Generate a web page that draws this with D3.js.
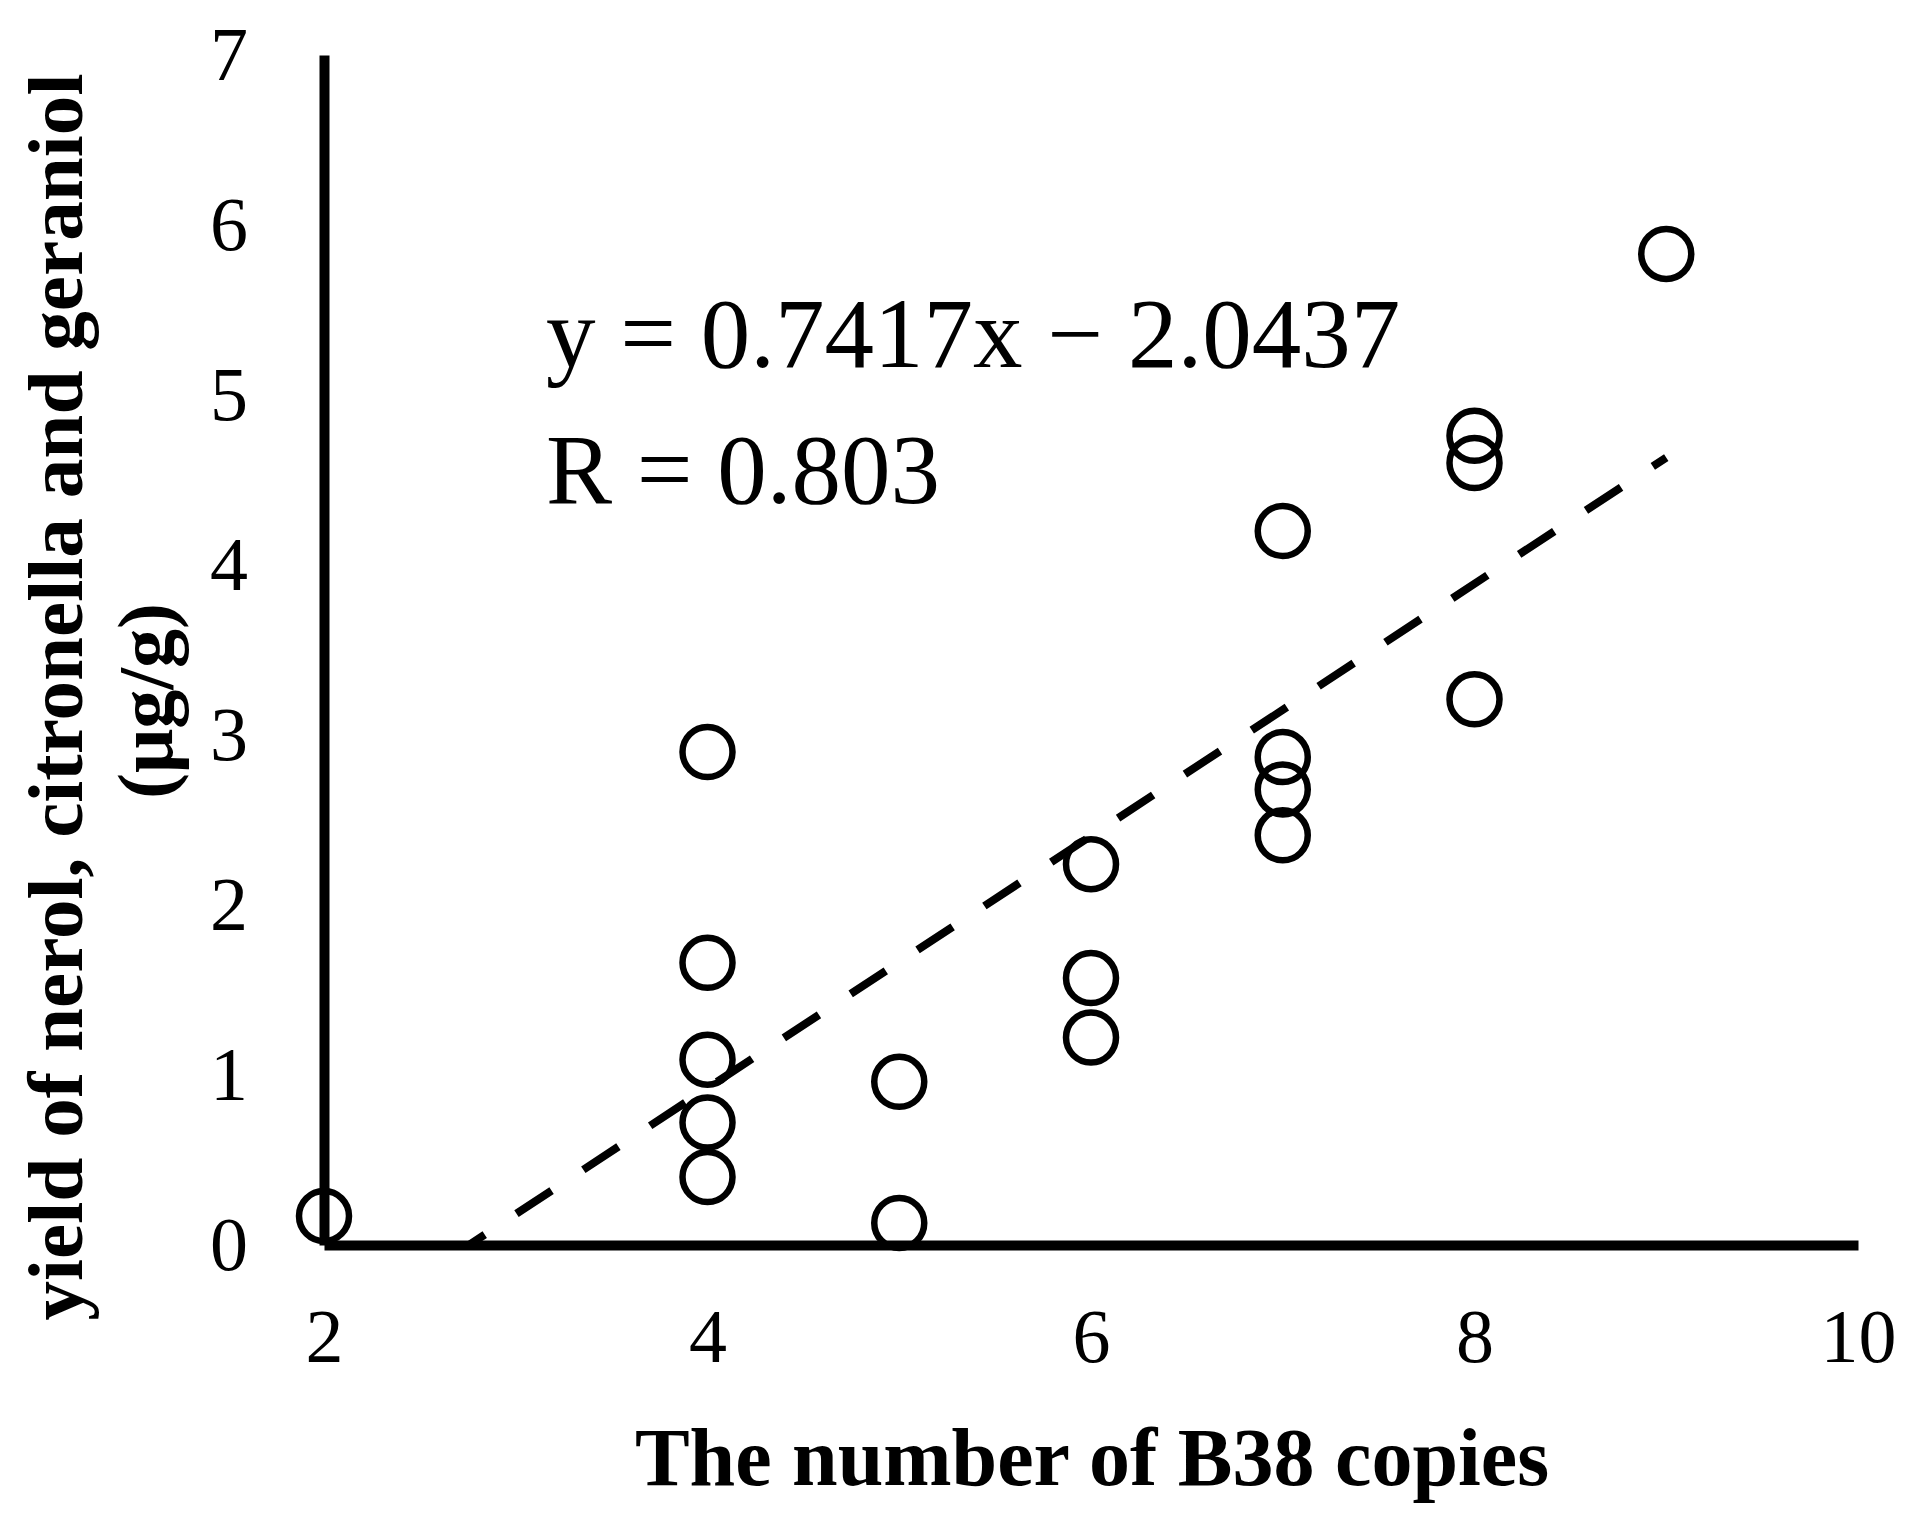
<!DOCTYPE html>
<html>
<head>
<meta charset="utf-8">
<script src="https://cdn.jsdelivr.net/npm/d3@7"></script>
<style>
  body { margin: 0; background: #fff; }
  text { font-family: "Liberation Serif", "Times New Roman", serif; fill: #000; }
</style>
</head>
<body>
<div id="chart"></div>
<script>
// copies of B38 per sample and the measured yield (ug/g)
var copies = [2, 4, 4, 4, 4, 4, 5, 5, 6, 6, 6, 7, 7, 7, 7, 8, 8, 8, 9]
var yields = [0.17, 2.90, 1.66, 1.09, 0.72, 0.40, 0.96, 0.13, 2.24, 1.57, 1.22, 4.20, 2.87, 2.68, 2.41, 4.76, 4.60, 3.21, 5.83]
var xTicks = [2, 4, 6, 8, 10]
var yTicks = [0, 1, 2, 3, 4, 5, 6, 7]
// linear fit shown on the chart
var slope = 0.7417
var intercept = -2.0437
var eqLabel = "y = 0.7417x \u2212 2.0437"
var rLabel = "R = 0.803"

var width = 1917
var height = 1525

var svg = d3.select("#chart")
  .append("svg")
    .attr("width", width)
    .attr("height", height)

var x = d3.scaleLinear().domain([2, 10]).range([324, 1858])
var y = d3.scaleLinear().domain([0, 7]).range([1245, 55])

// x axis
var gx = svg.append("g")
  .attr("transform", "translate(0," + y(0) + ")")
  .call(d3.axisBottom(x).tickValues(xTicks).tickSize(0).tickSizeOuter(0).tickPadding(63).tickFormat(d3.format("d")))
gx.select(".domain").attr("stroke-width", 10).attr("stroke", "#000")
gx.selectAll("text").style("font-size", "76px").attr("font-family", null)

// y axis
var gy = svg.append("g")
  .attr("transform", "translate(" + x(2) + ",0)")
  .call(d3.axisLeft(y).tickValues(yTicks).tickSize(0).tickSizeOuter(0).tickPadding(76).tickFormat(d3.format("d")))
gy.select(".domain").attr("stroke-width", 10).attr("stroke", "#000")
gy.selectAll("text").style("font-size", "76px").attr("font-family", null)

// trend line from where it crosses zero to the last sample
var x0 = -intercept / slope
var x1 = d3.max(copies)
var trend = [[x0, slope * x0 + intercept], [x1, slope * x1 + intercept]]
svg.append("path")
  .datum(trend)
  .attr("d", d3.line().x(function(d) { return x(d[0]) }).y(function(d) { return y(d[1]) }))
  .attr("fill", "none")
  .attr("stroke", "#000")
  .attr("stroke-width", 8)
  .attr("stroke-dasharray", "42,38")
  .attr("stroke-dashoffset", 23)

// points
svg.selectAll("circle.pt")
  .data(copies)
  .enter()
  .append("circle")
    .attr("class", "pt")
    .attr("cx", function(d) { return x(d) })
    .attr("cy", function(d, i) { return y(yields[i]) })
    .attr("r", 25)
    .attr("fill", "none")
    .attr("stroke", "#000")
    .attr("stroke-width", 6.5)

// equation
svg.append("text")
  .attr("x", 546).attr("y", 367)
  .style("font-size", "99px")
  .text(eqLabel)
svg.append("text")
  .attr("x", 546).attr("y", 503)
  .style("font-size", "99px")
  .text(rLabel)

// axis titles
svg.append("text")
  .attr("x", 1092).attr("y", 1485)
  .attr("text-anchor", "middle")
  .style("font-size", "82px")
  .style("font-weight", "bold")
  .text("The number of B38 copies")

svg.append("text")
  .attr("transform", "translate(82,697) rotate(-90)")
  .attr("text-anchor", "middle")
  .style("font-size", "78px")
  .style("font-weight", "bold")
  .attr("textLength", 1247)
  .attr("lengthAdjust", "spacingAndGlyphs")
  .text("yield of nerol, citronella and geraniol")

svg.append("text")
  .attr("transform", "translate(172,701) rotate(-90)")
  .attr("text-anchor", "middle")
  .style("font-size", "78px")
  .style("font-weight", "bold")
  .text("(\u03bcg/g)")
</script>
</body>
</html>
